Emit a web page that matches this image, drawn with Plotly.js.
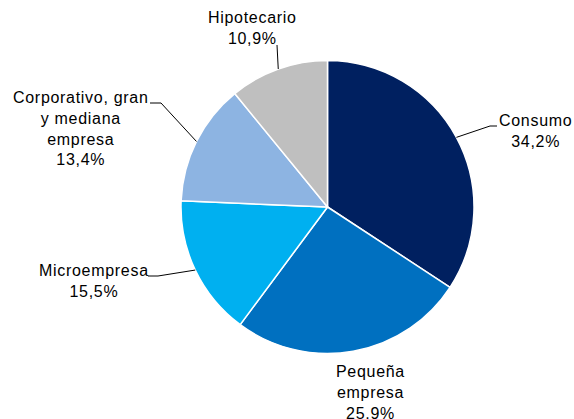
<!DOCTYPE html>
<html>
<head>
<meta charset="utf-8">
<script src="https://cdn.plot.ly/plotly-3.0.1.min.js"></script>
<style>
html, body { margin: 0; padding: 0; background: #fff; }
#chart { width: 574px; height: 419px; }
.annotation-text { letter-spacing: 0.7px; }
</style>
</head>
<body>
<div id="chart"></div>
<script>
// Data
const categories = ["Consumo", "Pequeña<br>empresa", "Microempresa", "Corporativo, gran<br>y mediana<br>empresa", "Hipotecario"];
const values = [34.2, 25.9, 15.5, 13.4, 10.9];
const colors = ["#002060", "#0070C0", "#00B0F0", "#8DB4E2", "#BFBFBF"];

// Layout styling (pixel geometry)
const W = 574, H = 419;
const cx = 327.5, cy = 207, r = 146.5;
const X = px => px / W;
const Y = py => 1 - py / H;

// label block centers and leader elbows (styling positions)
const labelPos = [
  {x: 535, y: 130.5, path: [[490, 126], [497, 126]]},
  {x: 370, y: 392, path: null},
  {x: 94, y: 281, path: [[158, 276], [148, 276]]},
  {x: 81, y: 128, path: [[161, 103], [150, 103]]},
  {x: 252, y: 28, path: [[277, 45]]}
];

const fmt = v => v.toFixed(1).replace('.', ',') + '%';
const total = values.reduce((a, b) => a + b, 0);

const annotations = [];
const shapes = [];
let cum = 0;
values.forEach((v, i) => {
  const mid = (cum + v / 2) / total * 2 * Math.PI;
  cum += v;
  const ex = cx + r * Math.sin(mid);
  const ey = cy - r * Math.cos(mid);
  const lp = labelPos[i];
  annotations.push({
    xref: 'paper', yref: 'paper',
    x: X(lp.x), y: Y(lp.y),
    xanchor: 'center', yanchor: 'middle',
    text: categories[i] + '<br>' + fmt(v),
    showarrow: false,
    align: 'center',
    font: {family: '"Liberation Sans", Arial, sans-serif', size: 16, color: '#000'}
  });
  if (lp.path) {
    let d = 'M ' + X(ex) + ',' + Y(ey);
    lp.path.forEach(p => { d += ' L ' + X(p[0]) + ',' + Y(p[1]); });
    shapes.push({
      type: 'path', xref: 'paper', yref: 'paper', path: d,
      line: {color: '#000', width: 1}
    });
  }
});

const trace = {
  type: 'pie',
  labels: categories,
  values: values,
  sort: false,
  direction: 'clockwise',
  rotation: 0,
  textinfo: 'none',
  hoverinfo: 'none',
  marker: {colors: colors, line: {color: '#ffffff', width: 1.5}},
  domain: {x: [X(cx - r), X(cx + r)], y: [Y(cy + r), Y(cy - r)]},
  showlegend: false
};

const layout = {
  width: W, height: H,
  margin: {l: 0, r: 0, t: 0, b: 0},
  paper_bgcolor: '#fff',
  showlegend: false,
  annotations: annotations,
  shapes: shapes
};

Plotly.newPlot('chart', [trace], layout, {displayModeBar: false, staticPlot: true});
</script>
</body>
</html>
